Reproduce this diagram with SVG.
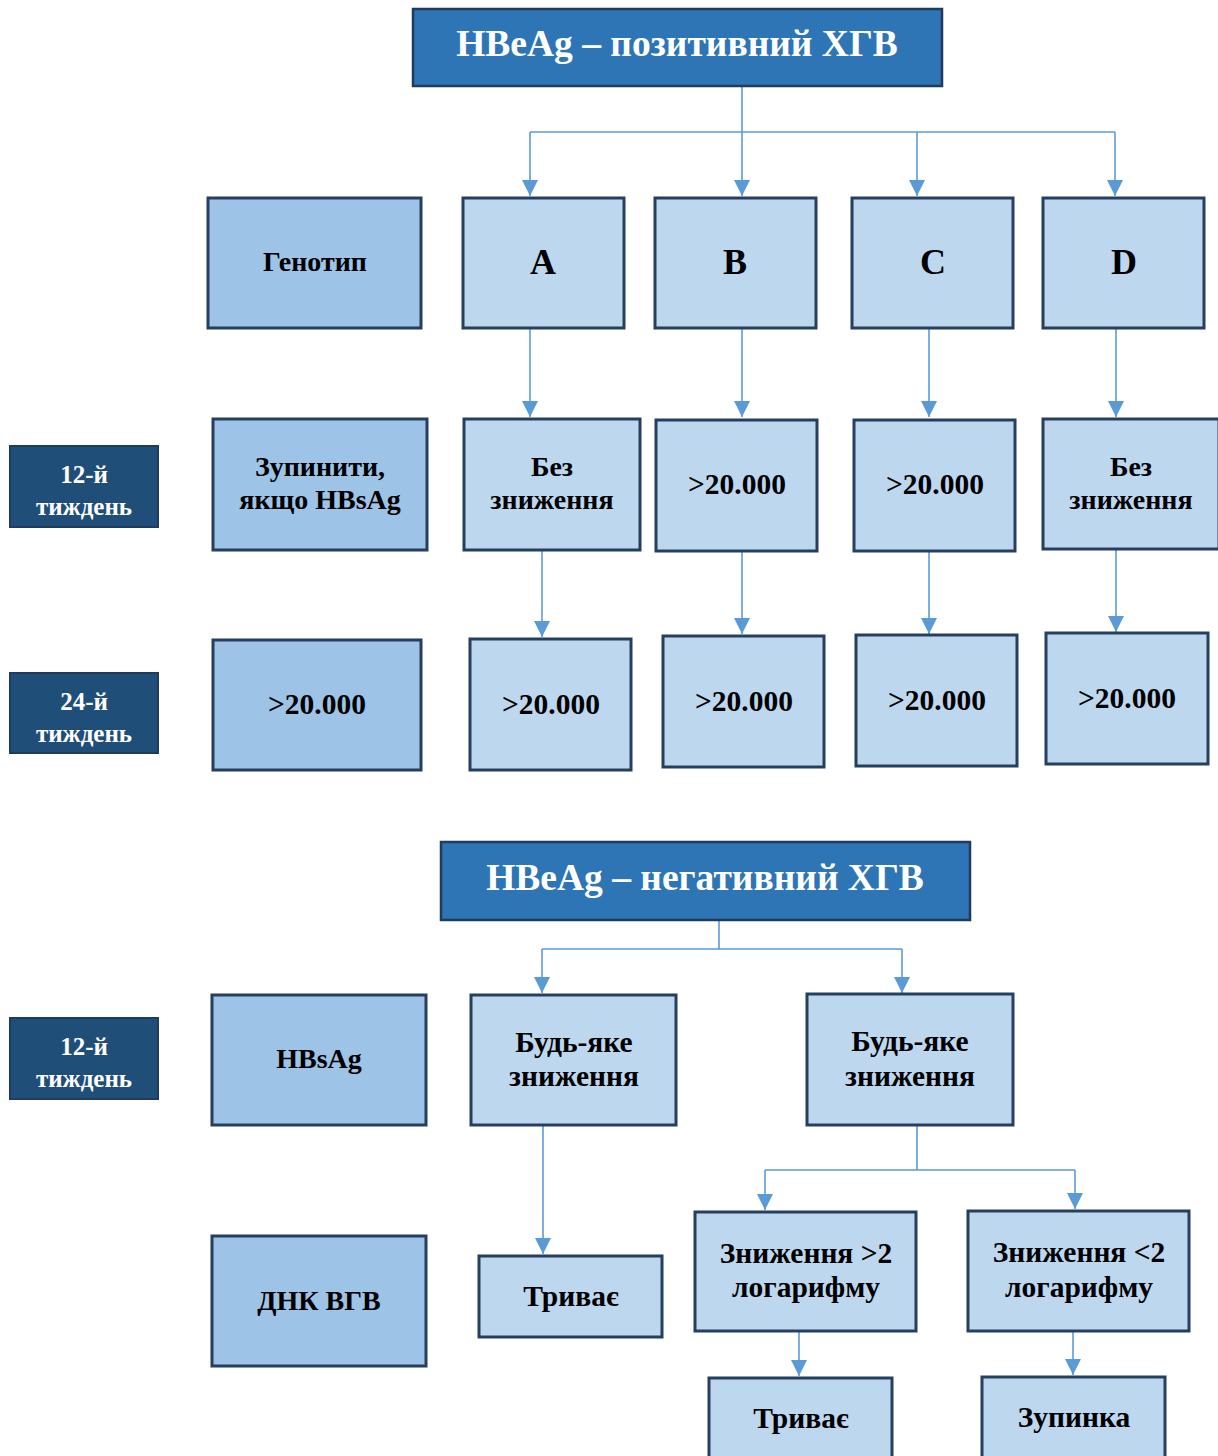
<svg xmlns="http://www.w3.org/2000/svg" width="1218" height="1456" viewBox="0 0 1218 1456">
<style>
.title{fill:#2E75B6;stroke:#1F3B5E;stroke-width:2.5}
.lab{fill:#1F4E79;stroke:#1F3B5E;stroke-width:2}
.dk{fill:#9DC3E6;stroke:#263F5E;stroke-width:3}
.lt{fill:#BDD7EE;stroke:#263F5E;stroke-width:3}
text{font-family:"Liberation Serif","Times New Roman",serif;font-weight:bold;text-anchor:middle}
.tt{fill:#FFFFFF;font-size:37.5px}
.lw{fill:#FFFFFF;font-size:25px}
.t{fill:#000000;font-size:28px}
.b{fill:#000000;font-size:29.5px}
.n{fill:#000000;font-size:29.5px}
.big{fill:#000000;font-size:36px}
.c{fill:none;stroke:#5B9BD5;stroke-width:1.6}
</style>
<defs>
<marker id="a" markerUnits="userSpaceOnUse" markerWidth="16" markerHeight="16" viewBox="0 0 16 16" refX="16" refY="8" orient="auto">
<path d="M0,0 L16,8 L0,16 Z" fill="#5B9BD5"/>
</marker>
</defs>
<g id="connectors">
<path class="c" d="M742,86 V196" marker-end="url(#a)"/>
<path class="c" d="M530,132 H1115"/>
<path class="c" d="M530,132 V196" marker-end="url(#a)"/>
<path class="c" d="M917,132 V196" marker-end="url(#a)"/>
<path class="c" d="M1115,132 V196" marker-end="url(#a)"/>
<path class="c" d="M530,328 V417" marker-end="url(#a)"/>
<path class="c" d="M742,328 V417" marker-end="url(#a)"/>
<path class="c" d="M929,328 V417" marker-end="url(#a)"/>
<path class="c" d="M1116,328 V417" marker-end="url(#a)"/>
<path class="c" d="M542,550 V637" marker-end="url(#a)"/>
<path class="c" d="M742,551 V634" marker-end="url(#a)"/>
<path class="c" d="M929,551 V634" marker-end="url(#a)"/>
<path class="c" d="M1116,549 V632" marker-end="url(#a)"/>
<path class="c" d="M719,920 V949 M542,949 H902"/>
<path class="c" d="M542,949 V993" marker-end="url(#a)"/>
<path class="c" d="M902,949 V993" marker-end="url(#a)"/>
<path class="c" d="M543,1125 V1254" marker-end="url(#a)"/>
<path class="c" d="M917,1125 V1170 M765,1170 H1075"/>
<path class="c" d="M765,1170 V1210" marker-end="url(#a)"/>
<path class="c" d="M1075,1170 V1209" marker-end="url(#a)"/>
<path class="c" d="M799,1331 V1376" marker-end="url(#a)"/>
<path class="c" d="M1073,1331 V1375" marker-end="url(#a)"/>
</g>
<g id="title1"><rect class="title" x="413" y="9" width="529" height="77"/><text class="tt" x="677" y="56">HBeAg – позитивний ХГВ</text></g>
<g id="genotype"><rect class="dk" x="208" y="198" width="213" height="130"/><text class="t" x="315" y="271">Генотип</text></g>
<g id="gA"><rect class="lt" x="463" y="198" width="161" height="130"/><text class="big" x="543" y="274">A</text></g>
<g id="gB"><rect class="lt" x="655" y="198" width="161" height="130"/><text class="big" x="735" y="274">B</text></g>
<g id="gC"><rect class="lt" x="852" y="198" width="161" height="130"/><text class="big" x="933" y="274">C</text></g>
<g id="gD"><rect class="lt" x="1043" y="198" width="161" height="130"/><text class="big" x="1124" y="274">D</text></g>
<g id="w12a"><rect class="lab" x="10" y="446" width="148" height="81"/><text class="lw" x="84" y="483">12-й</text><text class="lw" x="84" y="515">тиждень</text></g>
<g id="w24"><rect class="lab" x="10" y="673" width="148" height="80"/><text class="lw" x="84" y="710">24-й</text><text class="lw" x="84" y="742">тиждень</text></g>
<g id="stop"><rect class="dk" x="213" y="419" width="214" height="131"/><text class="t" x="320" y="476">Зупинити,</text><text class="t" x="320" y="509">якщо HBsAg</text></g>
<g id="a12"><rect class="lt" x="464" y="419" width="176" height="131"/><text class="t" x="552" y="476">Без</text><text class="t" x="552" y="509">зниження</text></g>
<g id="b12"><rect class="lt" x="656" y="420" width="161" height="131"/><text class="n" x="737" y="494">&gt;20.000</text></g>
<g id="c12"><rect class="lt" x="854" y="420" width="161" height="131"/><text class="n" x="935" y="494">&gt;20.000</text></g>
<g id="d12"><rect class="lt" x="1043" y="419" width="176" height="130"/><text class="t" x="1131" y="476">Без</text><text class="t" x="1131" y="509">зниження</text></g>
<g id="l24"><rect class="dk" x="213" y="640" width="208" height="130"/><text class="n" x="317" y="714">&gt;20.000</text></g>
<g id="a24"><rect class="lt" x="470" y="639" width="161" height="131"/><text class="n" x="551" y="714">&gt;20.000</text></g>
<g id="b24"><rect class="lt" x="663" y="636" width="161" height="131"/><text class="n" x="744" y="711">&gt;20.000</text></g>
<g id="c24"><rect class="lt" x="856" y="635" width="161" height="131"/><text class="n" x="937" y="710">&gt;20.000</text></g>
<g id="d24"><rect class="lt" x="1046" y="633" width="162" height="131"/><text class="n" x="1127" y="708">&gt;20.000</text></g>
<g id="title2"><rect class="title" x="441" y="842" width="529" height="78"/><text class="tt" x="705" y="890">HBeAg – негативний ХГВ</text></g>
<g id="w12b"><rect class="lab" x="10" y="1018" width="148" height="81"/><text class="lw" x="84" y="1055">12-й</text><text class="lw" x="84" y="1087">тиждень</text></g>
<g id="hbsag"><rect class="dk" x="212" y="995" width="214" height="130"/><text class="t" x="319" y="1068">HBsAg</text></g>
<g id="any1"><rect class="lt" x="471" y="995" width="205" height="130"/><text class="b" x="574" y="1052">Будь-яке</text><text class="b" x="574" y="1086">зниження</text></g>
<g id="any2"><rect class="lt" x="807" y="994" width="206" height="131"/><text class="b" x="910" y="1051">Будь-яке</text><text class="b" x="910" y="1086">зниження</text></g>
<g id="dna"><rect class="dk" x="212" y="1236" width="214" height="130"/><text class="t" x="319" y="1310">ДНК ВГВ</text></g>
<g id="cont1"><rect class="lt" x="479" y="1256" width="183" height="81"/><text class="b" x="571" y="1306">Триває</text></g>
<g id="gt2"><rect class="lt" x="695" y="1212" width="221" height="119"/><text class="b" x="806" y="1263">Зниження &gt;2</text><text class="b" x="806" y="1297">логарифму</text></g>
<g id="lt2"><rect class="lt" x="968" y="1211" width="221" height="120"/><text class="b" x="1079" y="1262">Зниження &lt;2</text><text class="b" x="1079" y="1297">логарифму</text></g>
<g id="cont2"><rect class="lt" x="709" y="1378" width="183" height="82"/><text class="b" x="801" y="1428">Триває</text></g>
<g id="stop2"><rect class="lt" x="982" y="1377" width="183" height="83"/><text class="b" x="1074" y="1427">Зупинка</text></g>
</svg>
